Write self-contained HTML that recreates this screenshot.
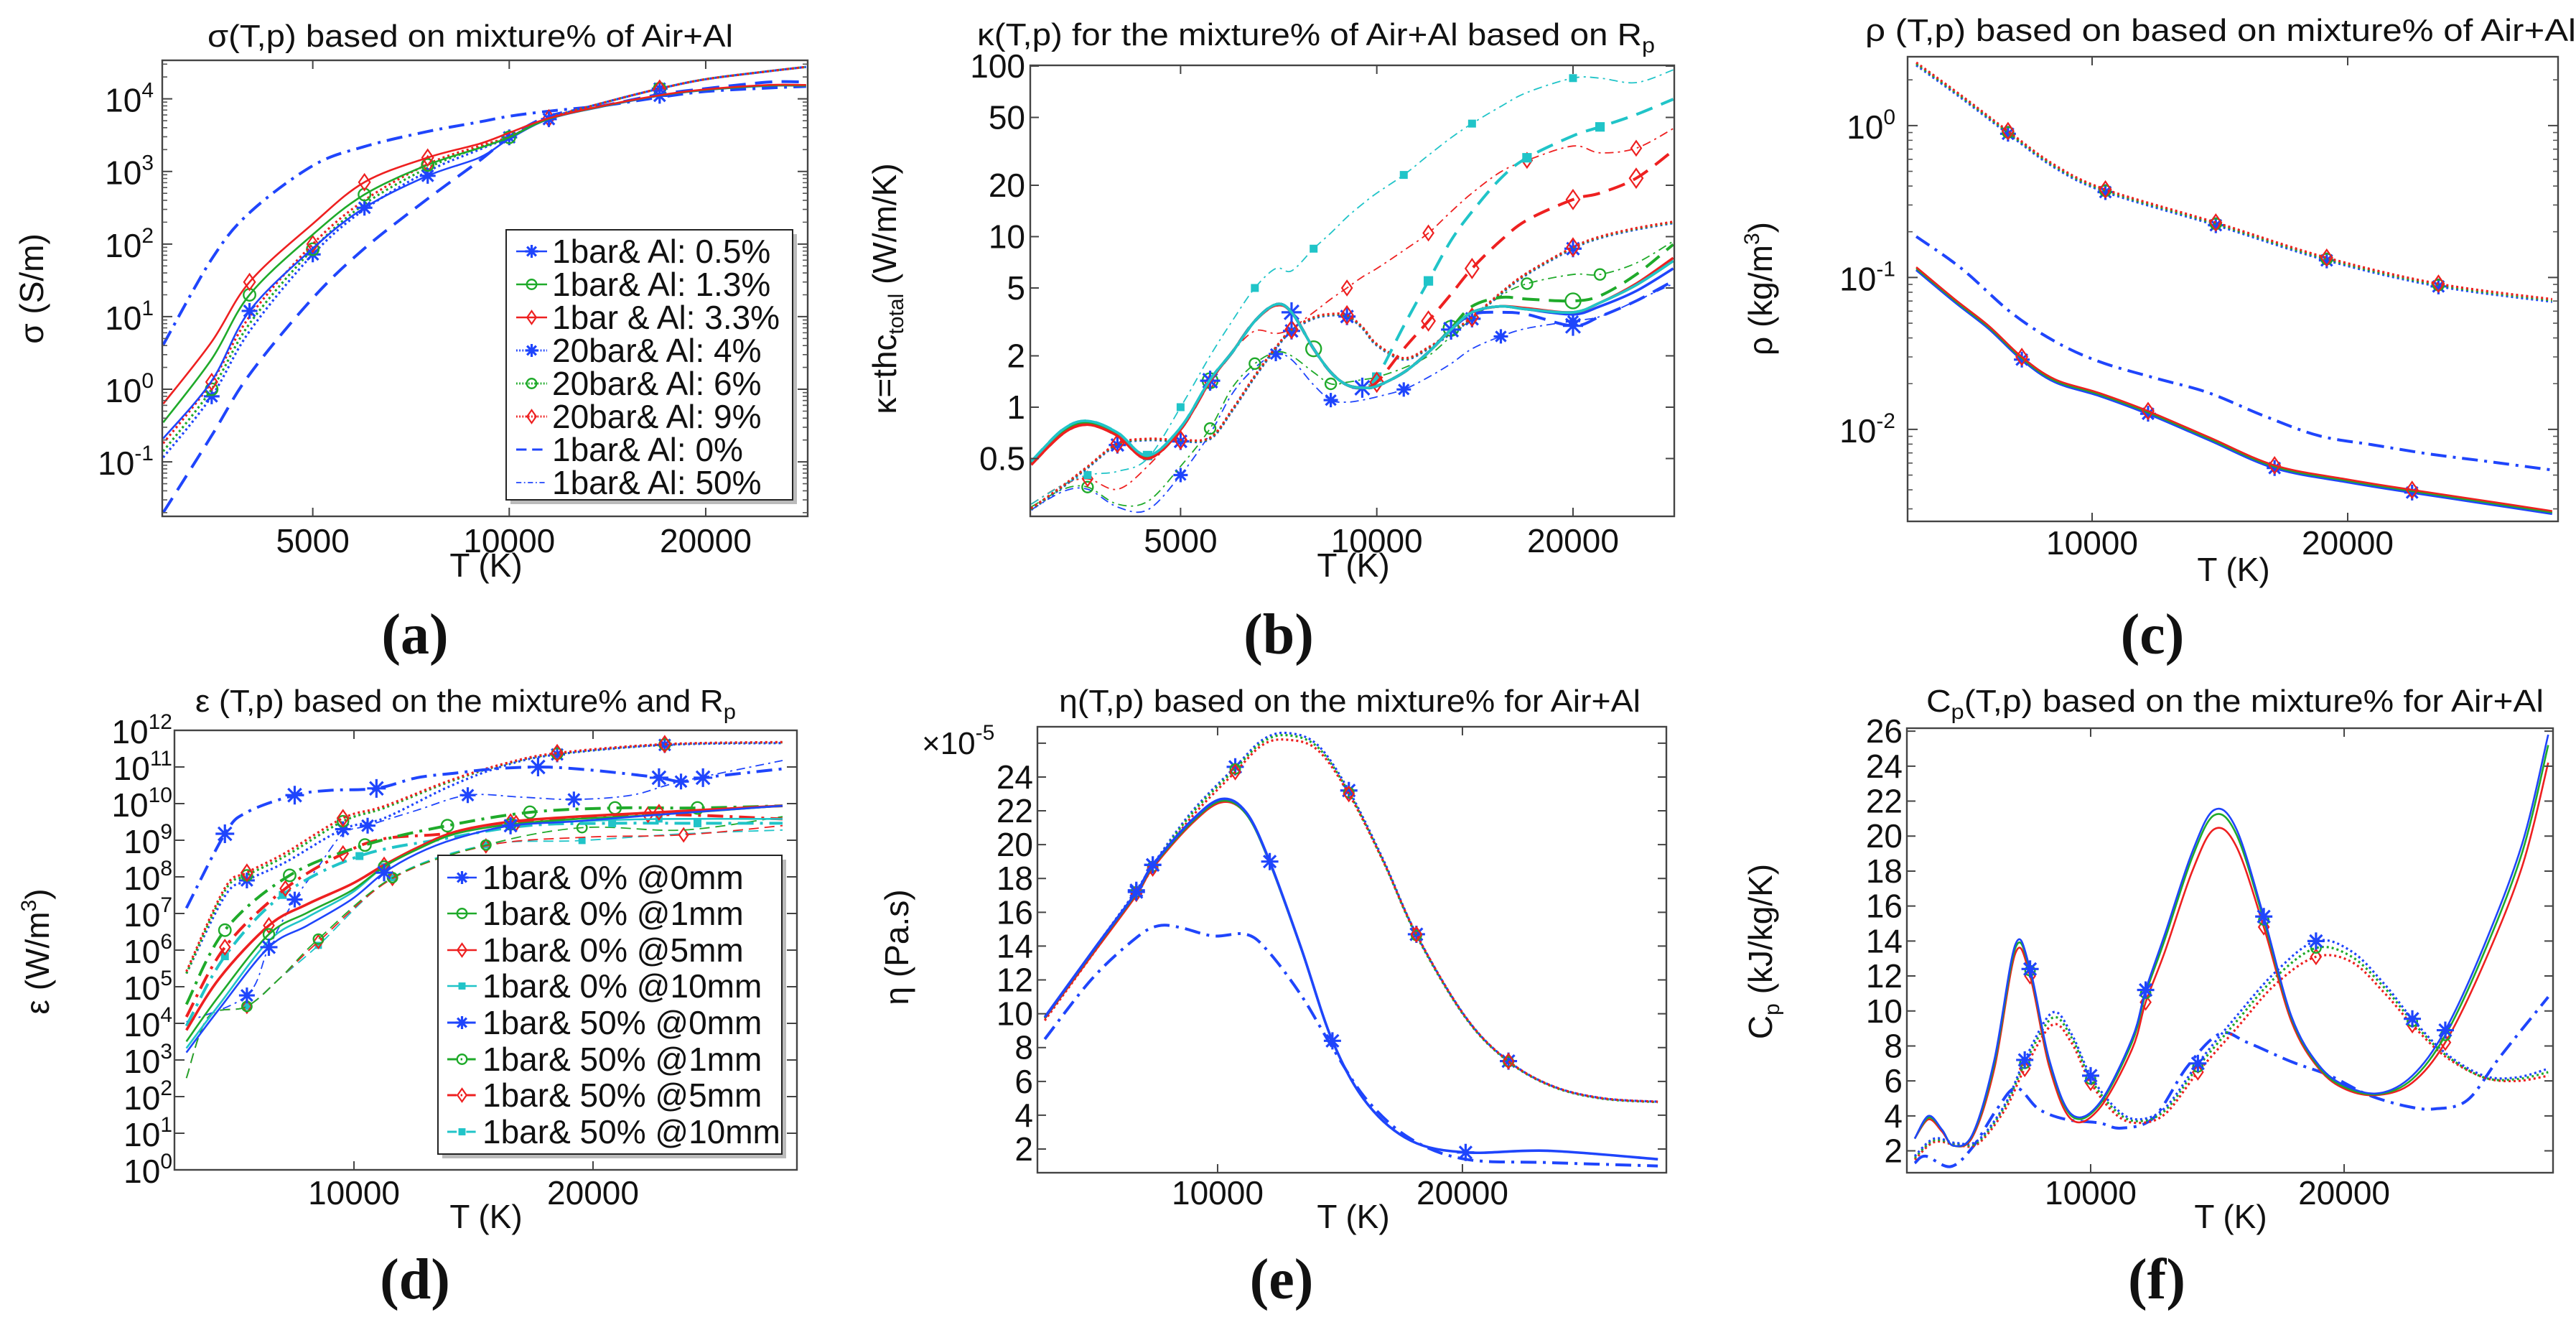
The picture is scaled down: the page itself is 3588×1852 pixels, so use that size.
<!DOCTYPE html>
<html><head><meta charset="utf-8"><title>Air+Al plasma properties</title>
<style>
html,body{margin:0;padding:0;background:#fff;}
svg{display:block;}
text{font-family:"Liberation Sans","DejaVu Sans",sans-serif;fill:#111;}
.lbl{font-family:"Liberation Serif",serif;font-weight:bold;}
</style></head>
<body>
<svg id="fig" xmlns="http://www.w3.org/2000/svg" width="3588" height="1852" viewBox="0 0 3588 1852">
<rect x="0" y="0" width="3588" height="1852" fill="#fff"/>
</svg>
<script>
// ---------- DATA ----------
// (a) sigma
const a_T = [2950,3500,4000,5000,6000,7500,9000,10000,11500,14000,17000,20000,25000,28500];
const a_blueSolid = [0.21,1.3,12,87,316,870,1550,2800,5250,7900,11000,13200,15100,15100];
const a_greenSolid = [0.35,2.6,20,135,480,1230,2100,2950,5300,8000,11100,13300,15200,15200];
const a_redSolid = [0.63,4.5,30,190,710,1550,2400,3400,5400,8100,11200,13500,15500,15500];
const a_blueDot = [0.115,0.8,6.3,72,300,1000,2000,2950,5400,8900,13800,18600,24000,27500];
const a_greenDot = [0.14,1.0,8,85,355,1120,2140,2950,5400,8900,13800,18600,24000,27500];
const a_redDot = [0.18,1.26,10,100,400,1260,2240,3000,5400,8900,13800,18600,24000,27500];
const a_blueDash = [0.02,0.23,1.6,18,87,420,1400,2950,5750,8100,11500,13800,17000,17000];
const a_blueDashDot = [4.1,62,270,1200,2200,3550,4800,5750,6760,8100,10500,12600,14100,14800];
const a_xticks = [5000,10000,20000];
const a_yticks = [-1,0,1,2,3,4];
const a_legend = ["1bar& Al: 0.5%","1bar& Al: 1.3%","1bar & Al: 3.3%","20bar& Al: 4%","20bar& Al: 6%","20bar& Al: 9%","1bar& Al: 0%","1bar& Al: 50%"];

// (b) kappa
const b_T = [2950,3300,3600,4000,4450,5000,5550,6000,6500,7000,7400,8000,8500,9000,9500,10000,11000,12000,13000,14000,15500,17000,20000,22000,25000,28500];
const b_blueSolid = [0.47,0.72,0.81,0.7,0.51,0.75,1.43,2.1,3.2,4.0,3.6,2.2,1.6,1.35,1.3,1.33,1.6,2.1,2.85,3.6,3.9,3.75,3.5,3.9,4.8,6.5];
const b_greenSolid = [0.47,0.72,0.81,0.7,0.51,0.75,1.43,2.1,3.2,4.0,3.6,2.2,1.6,1.35,1.3,1.33,1.6,2.1,2.85,3.6,3.9,3.75,3.6,4.1,5.2,7.2];
const b_redSolid = [0.46,0.7,0.79,0.68,0.5,0.74,1.42,2.1,3.2,3.95,3.6,2.2,1.6,1.35,1.3,1.33,1.6,2.1,2.85,3.6,3.9,3.8,3.6,4.1,5.3,7.5];
const b_cyanSolid = [0.48,0.74,0.83,0.71,0.52,0.76,1.45,2.1,3.2,4.0,3.6,2.2,1.6,1.35,1.3,1.33,1.6,2.1,2.85,3.6,3.9,3.75,3.6,4.1,5.2,7.2];
const b_cyanDash = [0.48,0.74,0.83,0.71,0.52,0.76,1.45,2.1,3.2,4.0,3.6,2.2,1.6,1.35,1.3,1.5,3.0,5.5,9.5,14,22,29,39,44,52,64];
const b_redDash = [0.46,0.7,0.79,0.68,0.5,0.74,1.42,2.1,3.2,3.95,3.6,2.2,1.6,1.35,1.3,1.4,2.2,3.2,4.6,6.5,9.5,12.5,16.5,18,22,32];
const b_greenDash = [0.47,0.72,0.81,0.7,0.51,0.75,1.43,2.1,3.2,4.0,3.6,2.2,1.6,1.35,1.3,1.33,1.6,2.1,2.9,3.9,4.4,4.3,4.2,4.5,6.0,9.0];
const b_blueDash = [0.47,0.72,0.81,0.7,0.51,0.75,1.43,2.1,3.2,4.0,3.6,2.2,1.6,1.35,1.3,1.33,1.6,2.1,2.85,3.5,3.6,3.5,3.0,3.4,4.2,5.5];
const b_dot = [0.25,0.34,0.44,0.6,0.64,0.63,0.65,0.95,1.5,2.2,2.8,3.3,3.45,3.4,2.9,2.3,1.9,2.2,2.7,3.3,4.6,6.0,8.5,9.8,11,12];
const b_cyanThin = [0.27,0.35,0.4,0.42,0.5,1.0,2.0,3.2,5.0,6.5,6.3,8.5,10.5,13,15.5,18,23,30,38,46,58,70,85,85,80,95];
const b_redThin = [0.27,0.35,0.38,0.33,0.45,0.75,1.4,2.1,2.8,2.7,2.9,3.6,4.3,5.0,5.8,6.5,8.3,10.5,14,18,24,28,34,31,33,43];
const b_greenThin = [0.26,0.33,0.34,0.27,0.28,0.45,0.75,1.3,1.8,2.1,2.0,1.6,1.37,1.4,1.45,1.5,1.7,2.0,2.6,3.3,4.5,5.3,6.0,6.0,7.0,9.4];
const b_blueThin = [0.25,0.32,0.33,0.26,0.25,0.4,0.7,1.2,1.7,2.05,1.9,1.35,1.1,1.07,1.1,1.15,1.27,1.5,1.8,2.2,2.6,2.9,3.2,3.4,4.2,5.3];
const b_xticks = [5000,10000,20000];
const b_yticks = [0.5,1,2,5,10,20,50,100];

// (c) rho
const c_Tdot = [3120,4880,6710,8540,10520,14840,19180,23550,28000];
const c_dot = [2.6,1.58,0.92,0.55,0.38,0.23,0.135,0.091,0.072];
const c_Tsolid = [3120,4670,5960,7250,8540,10260,12190,14560,17140,19940,22520,25310,28000];
const c_solid = [0.117,0.071,0.048,0.030,0.0214,0.0174,0.0132,0.0089,0.0058,0.0047,0.0040,0.0034,0.0029];
const c_Tdd = [3120,4880,6820,8540,10260,12410,14560,16710,18860,21010,23160,25310,28000];
const c_dd = [0.186,0.115,0.059,0.038,0.028,0.0219,0.0174,0.0123,0.0091,0.0079,0.0069,0.0062,0.0054];
const c_xticks = [10000,20000];
const c_yticks = [-2,-1,0];

// (d) epsilon
const d_T = [2990,4370,6440,8050,9890,11260,12640,14250,16550,19310,22760,27930];
const d_blue0 = [1.6e3,2.5e4,1.2e6,4.7e6,2.4e7,1.3e8,4.3e8,1.1e9,2.5e9,3.3e9,5e9,8.7e9];
const d_green0 = [3.2e3,5.8e4,2.7e6,1.05e7,4.2e7,1.9e8,5.6e8,1.5e9,2.7e9,3.8e9,5e9,8.7e9];
const d_red0 = [6.5e3,1.7e5,4.7e6,1.8e7,6.3e7,2.1e8,6.2e8,1.7e9,3.2e9,4.4e9,5.8e9,8.7e9];
const d_cyan0 = [2.1e3,3.3e4,1.8e6,7.9e6,3.6e7,1.9e8,5.6e8,1.5e9,2.7e9,3.3e9,3.8e9,3.8e9];
const d_T50b = [2990,4600,5520,7520,8970,10940,12640,14250,15860,17700,19310,21150,22760,23680,24600,27930];
const d_blue50 = [1.4e7,1.5e9,5.8e9,1.7e10,2.3e10,2.6e10,5.1e10,6.8e10,8.9e10,1.0e11,8.9e10,6.8e10,5.1e10,4.0e10,5.1e10,8.9e10];
const d_TthinB = [2990,5520,6440,7520,8510,9540,10570,12640,14760,17010,19200,21610,23680,27930];
const d_blueThin = [1.1e4,5.8e4,1.2e6,2.4e7,1.9e8,1.5e9,2.5e9,6.6e9,1.7e10,1.5e10,1.3e10,1.7e10,4.0e10,1.5e11];
const d_T50g = [2990,4600,7310,10460,13910,17360,20920,24370,27930];
const d_green50 = [3.3e4,3.5e6,1.1e8,7.4e8,2.5e9,5.8e9,7.6e9,7.6e9,8.7e9];
const d_T50r = [2990,4600,7130,9540,11260,13790,16780,22300,27930];
const d_red50 = [1.5e4,1.2e6,4.8e7,4.3e8,1.1e9,1.5e9,2.9e9,5e9,3.8e9];
const d_T50c = [2990,4600,7020,10230,13790,17240,20800,24370,27930];
const d_cyan50 = [8.5e3,6.8e5,3.2e7,3.7e8,1.1e9,2.5e9,2.9e9,2.9e9,2.9e9];
const d_Tthin = [2990,3910,5520,6900,8510,11610,15520,19540,23790,27930];
const d_greenThin = [320,1.5e4,2.9e4,1.7e5,2.0e6,9.5e7,7.4e8,2.2e9,1.9e9,4.4e9];
const d_redThin = [320,1.5e4,2.9e4,1.7e5,1.7e6,9e7,7e8,1.2e9,1.4e9,2.5e9];
const d_cyanThin = [320,1.5e4,2.9e4,1.7e5,1.35e6,9.5e7,7.4e8,9.8e8,1.5e9,1.9e9];
const d_Tdot = [2990,4600,5520,7130,9540,11260,14020,16320,18500,23000,27930];
const d_redDot = [2.6e5,5.0e7,1.3e8,4.5e8,4.0e9,8.5e9,4.3e10,1.25e11,2.4e11,4.2e11,4.8e11];
const d_greenDot = [2.3e5,4.2e7,1.1e8,3.7e8,3.3e9,7.6e9,4.0e10,1.2e11,2.3e11,4.1e11,4.7e11];
const d_blueDot = [2.3e5,3e7,8e7,2.5e8,2.0e9,4.0e9,3.0e10,1.1e11,2.2e11,4.0e11,4.5e11];
const d_xticks = [10000,20000];
const d_yticks = [0,1,2,3,4,5,6,7,8,9,10,11,12];
const d_legend = ["1bar& 0% @0mm","1bar& 0% @1mm","1bar& 0% @5mm","1bar& 0% @10mm","1bar& 50% @0mm","1bar& 50% @1mm","1bar& 50% @5mm","1bar& 50% @10mm"];

// (e) eta (x1e-5)
const e_Tdot = [2940,4890,6680,7350,8920,10720,11840,12850,14080,15360,16770,18120,20130,21880,23720,25740,27980];
const e_dotBlue = [9.8,13.7,17.3,18.8,21.9,24.6,26.2,26.6,25.9,23.2,19.1,14.7,9.8,7.2,5.7,5.0,4.8];
const e_dotRed = [9.6,13.5,17.1,18.6,21.6,24.3,25.9,26.2,25.6,23.0,19.0,14.7,9.8,7.2,5.7,5.0,4.8];
const e_Tsol = [2940,4890,6680,7350,8920,10160,11170,12130,13410,14690,16100,17890,20130,23500,27980];
const e_solBlue = [9.8,13.7,17.2,18.8,21.4,22.7,21.9,19.0,13.9,8.4,4.7,2.5,1.8,1.9,1.4];
const e_solRed = [9.7,13.5,17.0,18.6,21.2,22.5,21.8,19.0,13.9,8.4,4.7,2.5,1.8,1.9,1.4];
const e_Tdd = [2940,4890,6680,7580,8480,9820,11170,12060,13410,14690,16100,17890,20130,23500,27980];
const e_dd = [8.5,12.1,14.5,15.2,15.1,14.6,14.7,13.7,11.1,8.0,4.9,2.6,1.4,1.2,1.0];
const e_xticks = [10000,20000];
const e_yticks = [2,4,6,8,10,12,14,16,18,20,22,24,26];

// (f) Cp
const f_Tsol = [3060,3600,4140,4580,5340,6200,7030,7610,8370,9240,10330,11630,12170,12930,14010,14880,15750,16830,17920,19000,20090,21390,22690,23990,25510,27030,28050];
const f_blue = [2.7,4.0,3.2,2.3,2.95,7.2,13.8,12.4,7.2,4.1,4.7,8.4,11.2,14.4,19.1,21.5,20.4,15.4,9.7,6.9,5.7,5.3,6.3,8.9,13.7,19.6,25.8];
const f_green = [2.7,3.9,3.2,2.3,2.9,7.0,13.6,12.3,7.1,4.0,4.6,8.2,11.0,14.1,18.8,21.2,20.1,15.2,9.6,6.8,5.6,5.25,6.1,8.6,13.3,19.1,25.2];
const f_red = [2.7,3.8,3.1,2.3,2.8,6.7,13.3,12.0,6.8,3.8,4.4,7.8,10.5,13.4,18.0,20.4,19.4,14.8,9.4,6.7,5.5,5.2,5.9,8.2,12.7,18.3,24.2];
const f_Tdot = [3060,3820,4690,5550,6640,7400,8480,9240,10000,10980,11840,12930,14230,15750,17270,18890,20300,21610,22690,23990,25510,26810,28050];
const f_dotBlue = [1.7,2.7,2.45,2.6,4.7,7.2,9.9,8.7,6.3,4.45,3.8,4.45,7.0,9.7,12.2,14.0,13.4,11.5,9.55,7.6,6.3,6.2,6.7];
const f_dotGreen = [1.6,2.6,2.4,2.5,4.6,7.0,9.6,8.5,6.1,4.3,3.7,4.3,6.8,9.4,11.9,13.6,13.1,11.3,9.4,7.5,6.2,6.1,6.5];
const f_dotRed = [1.5,2.5,2.35,2.4,4.4,6.7,9.2,8.2,5.9,4.1,3.6,4.1,6.5,9.0,11.5,13.1,12.8,11.0,9.2,7.4,6.2,6.0,6.3];
const f_Tdd = [3060,3490,4470,5340,6310,7070,7940,9020,10330,11190,12490,13800,15100,16180,17920,19440,20950,22470,23560,24860,26160,28050];
const f_dd = [1.3,1.7,1.1,2.2,4.4,5.6,4.4,3.8,3.6,3.3,3.9,6.8,8.7,8.2,7.1,6.3,5.2,4.55,4.4,4.9,7.4,10.8];
const f_xticks = [10000,20000];
const f_yticks = [2,4,6,8,10,12,14,16,18,20,22,24,26];

// ---------- HELPERS ----------
const NS = 'http://www.w3.org/2000/svg';
const fig = document.getElementById('fig');
const BLUE='#1f45fc', GREEN='#1faa2a', RED='#ee2020', CYAN='#20c4c8';
const STY = {
  solid:{dash:null,w:2.6}, solidThick:{dash:null,w:3.6},
  dot:{dash:'3 4',w:3.2}, dash:{dash:'24 13',w:4},
  dashdot:{dash:'22 9 4 9',w:4}, thinDD:{dash:'12 6 3 6',w:1.8}, thinDash:{dash:'14 8',w:1.8}
};
function mk(tag, parent, name, inter){
  const e = document.createElementNS(NS, tag);
  
  
  parent.appendChild(e);
  return e;
}
function attrs(e, o){ for (const k in o) e.setAttribute(k, o[k]); return e; }
function logS(d0,d1,r0,r1){const a=Math.log10(d0),b=Math.log10(d1);return v=>r0+(Math.log10(v)-a)/(b-a)*(r1-r0);}
function linS(d0,d1,r0,r1){return v=>r0+(v-d0)/(d1-d0)*(r1-r0);}
function pathD(p){
  let d='M'+p[0][0].toFixed(1)+','+p[0][1].toFixed(1);
  for(let i=0;i<p.length-1;i++){
    const p0=p[Math.max(i-1,0)],p1=p[i],p2=p[i+1],p3=p[Math.min(i+2,p.length-1)];
    const c1x=p1[0]+(p2[0]-p0[0])/6,c1y=p1[1]+(p2[1]-p0[1])/6;
    const c2x=p2[0]-(p3[0]-p1[0])/6,c2y=p2[1]-(p3[1]-p1[1])/6;
    d+=' C'+c1x.toFixed(1)+','+c1y.toFixed(1)+' '+c2x.toFixed(1)+','+c2y.toFixed(1)+' '+p2[0].toFixed(1)+','+p2[1].toFixed(1);
  }
  return d;
}
function marker(g, shape, x, y, color, s){
  s = s || 10;
  if(shape==='star'){
    const m = mk('path', g, 'star-marker');
    let d='';
    for(let k=0;k<4;k++){const a=k*Math.PI/4;d+='M'+(x-s*Math.cos(a))+','+(y-s*Math.sin(a))+'L'+(x+s*Math.cos(a))+','+(y+s*Math.sin(a));}
    attrs(m,{d:d,stroke:color,'stroke-width':3.2,fill:'none'});
  } else if(shape==='circle'){
    const m = mk('circle', g, 'circle-marker');
    attrs(m,{cx:x,cy:y,r:s*0.75,stroke:color,'stroke-width':2.4,fill:'none'});
  } else if(shape==='diamond'){
    const m = mk('path', g, 'diamond-marker');
    attrs(m,{d:'M'+x+','+(y-s)+'L'+(x+s*0.7)+','+y+'L'+x+','+(y+s)+'L'+(x-s*0.7)+','+y+'Z',stroke:color,'stroke-width':2.2,fill:'none'});
  } else if(shape==='square'){
    const m = mk('rect', g, 'square-marker');
    attrs(m,{x:x-s*0.55,y:y-s*0.55,width:s*1.1,height:s*1.1,fill:color});
  }
}
let clipN=0;
function makePanel(name, box, sx, sy){
  const g = mk('g', fig, name);
  const id='clip'+(clipN++);
  const defs = mk('defs', g, name+'-defs');
  const cp = mk('clipPath', defs, name+'-clip');
  cp.setAttribute('id', id);
  const r = mk('rect', cp, name+'-clip-rect');
  attrs(r,{x:box[0],y:box[1],width:box[2]-box[0],height:box[3]-box[1]});
  const plot = mk('g', g, name+'-plot-area');
  plot.setAttribute('clip-path','url(#'+id+')');
  return {g:g, plot:plot, box:box, sx:sx, sy:sy};
}
function frame(P){
  const b=P.box;
  const r = mk('rect', P.g, 'axes-frame');
  attrs(r,{x:b[0],y:b[1],width:b[2]-b[0],height:b[3]-b[1],fill:'none',stroke:'#444','stroke-width':2.4});
}
function series(P, name, xs, ys, sty, color, mshape, midx, msize){
  const pts = xs.map((t,i)=>[P.sx(t),P.sy(ys[i])]);
  const p = mk('path', P.plot, name);
  attrs(p,{d:pathD(pts),fill:'none',stroke:color,'stroke-width':sty.w,'stroke-linecap':'butt','stroke-linejoin':'round'});
  if(sty.dash) p.setAttribute('stroke-dasharray', sty.dash);
  if(mshape && midx){
    const mg = mk('g', P.plot, name+'-markers');
    midx.forEach(i=>{ if(i<pts.length) marker(mg, mshape, pts[i][0], pts[i][1], color, msize); });
  }
}
function txt(parent, name, x, y, s, size, anchor, extra){
  const t = mk('text', parent, name);
  attrs(t,{x:x,y:y,'font-size':size,'text-anchor':anchor||'middle'});
  if(extra) attrs(t, extra);
  t.textContent = s;
  return t;
}
function xTicks(P, ticks, labelY){
  const b=P.box;
  ticks.forEach(v=>{
    const x=P.sx(v);
    const l = mk('path', P.g, 'x-tick');
    attrs(l,{d:'M'+x+','+b[3]+'v-12M'+x+','+b[1]+'v12',stroke:'#444','stroke-width':2});
    txt(P.g,'x-tick-label',x,labelY,String(v),46);
  });
}
function yTicksLin(P, ticks, labelX, labels){
  const b=P.box;
  ticks.forEach(v=>{
    const y=P.sy(v);
    const l = mk('path', P.g, 'y-tick');
    attrs(l,{d:'M'+b[0]+','+y+'h12M'+b[2]+','+y+'h-12',stroke:'#444','stroke-width':2});
    if(labels.indexOf(v)>=0) txt(P.g,'y-tick-label',labelX,y+16,String(v),46,'end');
  });
}
function yTicksPow(P, exps, labelX, minor){
  const b=P.box;
  exps.forEach(e=>{
    const y=P.sy(Math.pow(10,e));
    const l = mk('path', P.g, 'y-tick');
    attrs(l,{d:'M'+b[0]+','+y+'h14M'+b[2]+','+y+'h-14',stroke:'#444','stroke-width':2});
    const t = mk('text', P.g, 'y-tick-label');
    attrs(t,{x:labelX,y:y+18,'font-size':46,'text-anchor':'end'});
    const base = mk('tspan', t, 'tick-base');
    base.textContent='10';
    const sup = mk('tspan', t, 'tick-exponent');
    attrs(sup,{dy:-20,'font-size':30});
    sup.textContent=String(e);
  });
  if(minor){
    for(let e=Math.floor(Math.log10(P.sy.d0))-1;e<=Math.ceil(Math.log10(P.sy.d1));e++){
      for(let k=2;k<10;k++){
        const v=k*Math.pow(10,e);
        if(v<P.sy.d0||v>P.sy.d1) continue;
        const y=P.sy(v);
        const l = mk('path', P.g, 'y-minor-tick');
        attrs(l,{d:'M'+b[0]+','+y+'h7M'+b[2]+','+y+'h-7',stroke:'#555','stroke-width':1.6});
      }
    }
  }
}
function yLabel(P, name, x, y, parts){
  const t = mk('text', P.g, name);
  attrs(t,{x:0,y:0,'font-size':46,'text-anchor':'middle',transform:'translate('+x+','+y+') rotate(-90)'});
  parts.forEach(p=>{
    const s = mk('tspan', t, 'label-part');
    if(p.dy) s.setAttribute('dy', p.dy);
    if(p.size) s.setAttribute('font-size', p.size);
    s.textContent = p.t;
  });
}
function title(P, x0, x1, y, parts){
  const t = mk('text', P.g, 'chart-title');
  attrs(t,{x:x0,y:y,'font-size':44,'text-anchor':'start',textLength:x1-x0,lengthAdjust:'spacingAndGlyphs'});
  parts.forEach(p=>{
    const s = mk('tspan', t, 'title-part');
    if(p.dy) s.setAttribute('dy', p.dy);
    if(p.size) s.setAttribute('font-size', p.size);
    s.textContent = p.t;
  });
}
function legend(P, name, bx, entries, labels){
  const g = mk('g', P.g, name);
  const sh = mk('rect', g, 'legend-shadow');
  attrs(sh,{x:bx[0]+6,y:bx[1]+6,width:bx[2]-bx[0],height:bx[3]-bx[1],fill:'#bbb'});
  const r = mk('rect', g, 'legend-box');
  attrs(r,{x:bx[0],y:bx[1],width:bx[2]-bx[0],height:bx[3]-bx[1],fill:'#fff',stroke:'#222','stroke-width':2});
  entries.forEach((en,i)=>{
    const y=en.y;
    const eg = mk('g', g, 'legend-entry');
    const l = mk('path', eg, 'legend-line');
    attrs(l,{d:'M'+en.x0+','+y+'H'+en.x1,stroke:en.color,'stroke-width':Math.min(en.sty.w,3),fill:'none'});
    if(en.sty.dash) l.setAttribute('stroke-dasharray', en.sty.dash.split(' ').map(v=>v*0.6).join(' '));
    if(en.m) marker(eg, en.m, (en.x0+en.x1)/2, y, en.color, 9);
    txt(eg,'legend-label',en.tx,y+16,labels[i],46,'start');
  });
}

// ---------- PANEL A ----------
(function(){
  const box=[226,84,1125,719];
  const sy=logS(Math.pow(10,-1.75),Math.pow(10,4.53),box[3],box[1]);
  sy.d0=Math.pow(10,-1.75); sy.d1=Math.pow(10,4.53);
  const P=makePanel('panel-a-sigma',box,logS(2940,28660,box[0],box[2]),sy);
  series(P,'series-1bar-al-0pct',a_T,a_blueDash,STY.dash,BLUE);
  series(P,'series-1bar-al-50pct',a_T,a_blueDashDot,STY.dashdot,BLUE);
  series(P,'series-20bar-al-4pct',a_T,a_blueDot,STY.dot,BLUE,'star',[1,3,7,10],11);
  series(P,'series-20bar-al-6pct',a_T,a_greenDot,STY.dot,GREEN,'circle',[1,3,7,10],11);
  series(P,'series-20bar-al-9pct',a_T,a_redDot,STY.dot,RED,'diamond',[1,3,5,8,10],11);
  series(P,'series-1bar-al-0.5pct',a_T,a_blueSolid,STY.solid,BLUE,'star',[2,4,5,8,10],11);
  series(P,'series-1bar-al-1.3pct',a_T,a_greenSolid,STY.solid,GREEN,'circle',[2,4,5],11);
  series(P,'series-1bar-al-3.3pct',a_T,a_redSolid,STY.solid,RED,'diamond',[2,4,5],11);
  frame(P);
  xTicks(P,a_xticks,769);
  yTicksPow(P,a_yticks,214,true);
  title(P,289,1021,65,[{t:'σ(T,p) based on mixture% of Air+Al'}]);
  yLabel(P,'y-axis-title',60,402,[{t:'σ (S/m)'}]);
  txt(P.g,'x-axis-title',677,803,'T (K)',46);
  const E=[STY.solid,STY.solid,STY.solid,STY.dot,STY.dot,STY.dot,STY.dash,STY.thinDD];
  const C=[BLUE,GREEN,RED,BLUE,GREEN,RED,BLUE,BLUE];
  const M=['star','circle','diamond','star','circle','diamond',null,null];
  const ys=[350,396,442,488,534,580,626,672];
  legend(P,'legend',[705,320,1104,696],ys.map((y,i)=>({y:y,x0:719,x1:762,tx:769,sty:E[i],color:C[i],m:M[i]})),a_legend);
  txt(fig,'panel-label-a',578,910,'(a)',80,'middle',{class:'lbl'});
})();

// ---------- PANEL B ----------
(function(){
  const box=[1435,91,2332,719];
  const P=makePanel('panel-b-kappa',box,logS(2940,28600,box[0],box[2]),logS(0.229,101,box[3],box[1]));
  series(P,'series-50pct-0mm-thin',b_T,b_blueThin,STY.thinDD,BLUE,'star',[5,9,12,16,20,22],10);
  series(P,'series-50pct-1mm-thin',b_T,b_greenThin,STY.thinDD,GREEN,'circle',[2,6,8,12,21,23],10);
  series(P,'series-50pct-5mm-thin',b_T,b_redThin,STY.thinDD,RED,'diamond',[2,6,10,13,17,21,24],10);
  series(P,'series-50pct-10mm-thin',b_T,b_cyanThin,STY.thinDD,CYAN,'square',[2,5,8,11,16,19,22],10);
  series(P,'series-20bar-blue',b_T,b_dot,STY.dot,BLUE,'star',[3,5,10,13,19,22],12);
  series(P,'series-20bar-green',b_T,b_dot.map(v=>v*1.01),STY.dot,GREEN);
  series(P,'series-20bar-red',b_T,b_dot.map(v=>v*1.02),STY.dot,RED,'diamond',[3,5,10,13,19,22],12);
  series(P,'series-1bar-0pct-dash-cyan',b_T,b_cyanDash,STY.dash,CYAN,'square',[4,15,17,21,23],12);
  series(P,'series-1bar-0pct-dash-red',b_T,b_redDash,STY.dash,RED,'diamond',[15,17,19,22,24],13);
  series(P,'series-1bar-0pct-dash-green',b_T,b_greenDash,STY.dash,GREEN,'circle',[6,11,18,22],14);
  series(P,'series-1bar-0pct-dash-blue',b_T,b_blueDash,STY.dash,BLUE,'star',[6,10,14,18,22],14);
  series(P,'series-1bar-solid-blue',b_T,b_blueSolid,STY.solidThick,BLUE);
  series(P,'series-1bar-solid-green',b_T,b_greenSolid,STY.solidThick,GREEN);
  series(P,'series-1bar-solid-red',b_T,b_redSolid,STY.solidThick,RED);
  series(P,'series-1bar-solid-cyan',b_T,b_cyanSolid,STY.solidThick,CYAN);
  frame(P);
  xTicks(P,b_xticks,769);
  b_yticks.forEach(v=>{
    const y=P.sy(v);
    const l = mk('path', P.g, 'y-tick');
    attrs(l,{d:'M'+box[0]+','+y+'h12M'+box[2]+','+y+'h-12',stroke:'#444','stroke-width':2});
    txt(P.g,'y-tick-label',1428,y+16,String(v),46,'end');
  });
  title(P,1361,2305,63,[{t:'κ(T,p) for the mixture% of Air+Al based on R'},{t:'p',dy:10,size:30}]);
  yLabel(P,'y-axis-title',1248,402,[{t:'κ=thc'},{t:'total',dy:10,size:30},{t:' (W/m/K)',dy:-10}]);
  txt(P.g,'x-axis-title',1885,803,'T (K)',46);
  txt(fig,'panel-label-b',1781,910,'(b)',80,'middle',{class:'lbl'});
})();

// ---------- PANEL C ----------
(function(){
  const box=[2657,79,3563,726];
  const sy=logS(0.00248,2.84,box[3],box[1]); sy.d0=0.00248; sy.d1=2.84;
  const P=makePanel('panel-c-rho',box,linS(2781,28230,box[0],box[2]),sy);
  series(P,'series-50pct-dashdot',c_Tdd,c_dd,STY.dashdot,BLUE);
  series(P,'series-20bar-blue',c_Tdot,c_dot.map(v=>v*0.96),STY.dot,BLUE,'star',[2,4,5,6,7],11);
  series(P,'series-20bar-green',c_Tdot,c_dot.map(v=>v*0.98),STY.dot,GREEN,'circle',[2,4,5,6,7],10);
  series(P,'series-20bar-red',c_Tdot,c_dot,STY.dot,RED,'diamond',[2,4,5,6,7],11);
  series(P,'series-1bar-blue',c_Tsolid,c_solid.map(v=>v*0.96),STY.solidThick,BLUE,'star',[3,6,8,10],11);
  series(P,'series-1bar-green',c_Tsolid,c_solid.map(v=>v*0.98),STY.solid,GREEN);
  series(P,'series-1bar-red',c_Tsolid,c_solid,STY.solid,RED,'diamond',[3,6,8,10],11);
  frame(P);
  xTicks(P,c_xticks,772);
  yTicksPow(P,c_yticks,2640,true);
  title(P,2598,3588,57,[{t:'ρ (T,p) based on based on mixture% of Air+Al'}]);
  yLabel(P,'y-axis-title',2468,402,[{t:'ρ (kg/m'},{t:'3',dy:-18,size:30},{t:')',dy:18}]);
  txt(P.g,'x-axis-title',3111,809,'T (K)',46);
  txt(fig,'panel-label-c',2998,910,'(c)',80,'middle',{class:'lbl'});
})();

// ---------- PANEL D ----------
(function(){
  const box=[243,1017,1110,1629];
  const P=makePanel('panel-d-epsilon',box,linS(2490,28530,box[0],box[2]),logS(1,1e12,box[3],box[1]));
  series(P,'series-thin-dash-cyan',d_Tthin,d_cyanThin,STY.thinDash,CYAN,'square',[2,4,5,6,7],9);
  series(P,'series-thin-dash-red',d_Tthin,d_redThin,STY.thinDash,RED,'diamond',[2,4,5,6,8],9);
  series(P,'series-thin-dash-green',d_Tthin,d_greenThin,STY.thinDash,GREEN,'circle',[2,4,5,6,7],9);
  series(P,'series-20bar-blue-dot',d_Tdot,d_blueDot,STY.dot,BLUE,'star',[2,4,8,9],11);
  series(P,'series-20bar-green-dot',d_Tdot,d_greenDot,STY.dot,GREEN,'circle',[2,4,8,9],10);
  series(P,'series-20bar-red-dot',d_Tdot,d_redDot,STY.dot,RED,'diamond',[2,4,8,9],11);
  series(P,'series-50pct-0mm-thin',d_TthinB,d_blueThin,STY.thinDD,BLUE,'star',[1,3,6,8,10,12],11);
  series(P,'series-1bar-50pct-10mm',d_T50c,d_cyan50,STY.dashdot,CYAN,'square',[1,2,3,6,7],10);
  series(P,'series-1bar-50pct-5mm',d_T50r,d_red50,STY.dashdot,RED,'diamond',[1,2,3,6,7],10);
  series(P,'series-1bar-50pct-1mm',d_T50g,d_green50,STY.dashdot,GREEN,'circle',[1,2,3,4,5,6,7],11);
  series(P,'series-1bar-50pct-0mm',d_T50b,d_blue50,STY.dashdot,BLUE,'star',[1,3,5,9,12,14],13);
  series(P,'series-1bar-0pct-10mm',d_T,d_cyan0,STY.solid,CYAN,'square',[5,8,10],9);
  series(P,'series-1bar-0pct-5mm',d_T,d_red0,STY.solidThick,RED,'diamond',[2,5,8,10],10);
  series(P,'series-1bar-0pct-1mm',d_T,d_green0,STY.solid,GREEN,'circle',[2,5,8],10);
  series(P,'series-1bar-0pct-0mm',d_T,d_blue0,STY.solid,BLUE,'star',[2,5,8],12);
  frame(P);
  xTicks(P,d_xticks,1677);
  yTicksPow(P,d_yticks,240,false);
  title(P,272,1025,991,[{t:'ε (T,p) based on the mixture% and R'},{t:'p',dy:10,size:30}]);
  yLabel(P,'y-axis-title',68,1325,[{t:'ε (W/m'},{t:'3',dy:-18,size:30},{t:')',dy:18}]);
  txt(P.g,'x-axis-title',677,1710,'T (K)',46);
  const E=[STY.solid,STY.solid,STY.solid,STY.solid,STY.dashdot,STY.dashdot,STY.dashdot,STY.dashdot];
  const C=[BLUE,GREEN,RED,CYAN,BLUE,GREEN,RED,CYAN];
  const M=['star','circle','diamond','square','star','circle','diamond','square'];
  const ys=[1222,1272,1323,1373,1424,1475,1525,1576];
  legend(P,'legend',[610,1191,1089,1607],ys.map((y,i)=>({y:y,x0:623,x1:664,tx:672,sty:E[i],color:C[i],m:M[i]})),d_legend);
  txt(fig,'panel-label-d',578,1808,'(d)',80,'middle',{class:'lbl'});
})();

// ---------- PANEL E ----------
(function(){
  const box=[1445,1012,2321,1633];
  const P=makePanel('panel-e-eta',box,linS(2640,28330,box[0],box[2]),linS(0.6,26.97,box[3],box[1]));
  series(P,'series-50pct-dashdot',e_Tdd,e_dd,STY.dashdot,BLUE);
  series(P,'series-20bar-blue',e_Tdot,e_dotBlue,STY.dot,BLUE,'star',[2,3,5,9,11,13],12);
  series(P,'series-20bar-green',e_Tdot,e_dotBlue.map(v=>v*0.995),STY.dot,GREEN,'circle',[2,3,5,9,11,13],9);
  series(P,'series-20bar-red',e_Tdot,e_dotRed,STY.dot,RED,'diamond',[2,3,5,9,11,13],10);
  series(P,'series-1bar-red',e_Tsol,e_solRed,STY.solid,RED);
  series(P,'series-1bar-green',e_Tsol,e_solBlue.map(v=>v*0.995),STY.solid,GREEN);
  series(P,'series-1bar-blue',e_Tsol,e_solBlue,STY.solidThick,BLUE,'star',[2,3,7,9,12],12);
  frame(P);
  xTicks(P,e_xticks,1677);
  yTicksLin(P,e_yticks,1439,[2,4,6,8,10,12,14,16,18,20,22,24]);
  const t = mk('text', P.g, 'y-axis-multiplier');
  attrs(t,{x:1284,y:1050,'font-size':44,'text-anchor':'start'});
  const t1 = mk('tspan', t, 'multiplier-base');
  t1.textContent='×10';
  const t2 = mk('tspan', t, 'multiplier-exponent');
  attrs(t2,{dy:-20,'font-size':30});
  t2.textContent='-5';
  title(P,1475,2285,991,[{t:'η(T,p) based on the mixture% for Air+Al'}]);
  yLabel(P,'y-axis-title',1265,1319,[{t:'η (Pa.s)'}]);
  txt(P.g,'x-axis-title',1885,1710,'T (K)',46);
  txt(fig,'panel-label-e',1785,1808,'(e)',80,'middle',{class:'lbl'});
})();

// ---------- PANEL F ----------
(function(){
  const box=[2656,1014,3556,1633];
  const P=makePanel('panel-f-cp',box,linS(2750,28240,box[0],box[2]),linS(0.75,26.17,box[3],box[1]));
  series(P,'series-50pct-dashdot',f_Tdd,f_dd,STY.dashdot,BLUE);
  series(P,'series-20bar-red',f_Tdot,f_dotRed,STY.dot,RED,'diamond',[5,8,12,15,18],10);
  series(P,'series-20bar-green',f_Tdot,f_dotGreen,STY.dot,GREEN,'circle',[5,8,12,15,18],9);
  series(P,'series-20bar-blue',f_Tdot,f_dotBlue,STY.dot,BLUE,'star',[5,8,12,15,18],12);
  series(P,'series-1bar-red',f_Tsol,f_red,STY.solid,RED,'diamond',[7,12,17,23],10);
  series(P,'series-1bar-green',f_Tsol,f_green,STY.solid,GREEN,'circle',[7,12,17,23],9);
  series(P,'series-1bar-blue',f_Tsol,f_blue,STY.solid,BLUE,'star',[7,12,17,23],12);
  frame(P);
  xTicks(P,f_xticks,1677);
  yTicksLin(P,f_yticks,2650,f_yticks);
  title(P,2683,3543,991,[{t:'C'},{t:'p',dy:10,size:30},{t:'(T,p) based on the mixture% for Air+Al',dy:-10}]);
  yLabel(P,'y-axis-title',2468,1325,[{t:'C'},{t:'p',dy:10,size:30},{t:'  (kJ/kg/K)',dy:-10}]);
  txt(P.g,'x-axis-title',3107,1710,'T (K)',46);
  txt(fig,'panel-label-f',3004,1808,'(f)',80,'middle',{class:'lbl'});
})();
</script>
</body></html>
